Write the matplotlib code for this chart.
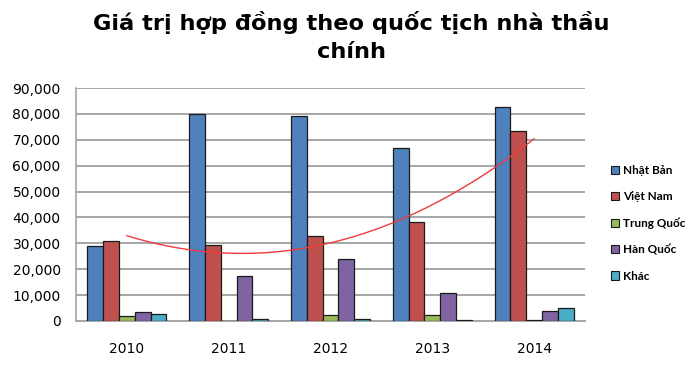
import numpy as np
import matplotlib
matplotlib.use("Agg")
import matplotlib.pyplot as plt
from matplotlib.patches import Patch

years = ["2010", "2011", "2012", "2013", "2014"]
series_names = ["Nhật Bản", "Việt Nam", "Trung Quốc", "Hàn Quốc", "Khác"]
nhat_ban = [29000, 80000, 79000, 66700, 82500]
viet_nam = [31000, 29200, 32800, 38400, 73200]
trung_quoc = [1900, 0, 2200, 2200, 300]
han_quoc = [3600, 17400, 24100, 10800, 4000]
khac = [2600, 600, 900, 500, 4900]
yticks = [0, 10000, 20000, 30000, 40000, 50000, 60000, 70000, 80000, 90000]

colors = ["#4F81BD", "#C0504D", "#9BBB59", "#8064A2", "#4BACC6"]
data = [nhat_ban, viet_nam, trung_quoc, han_quoc, khac]

fig = plt.figure(figsize=(7, 3.73), dpi=100)
ax = fig.add_axes([76/700, 1-321/373, (585-76)/700, (321-88)/373])

x = np.arange(len(years))
bw = 0.155
for i, (vals, c) in enumerate(zip(data, colors)):
    ax.bar(x + (i - 2) * bw, vals, width=bw, color=c, edgecolor="#1a1a1a",
           linewidth=0.9, zorder=3)

# polynomial (order 2) trendline on Việt Nam series
coef = np.polyfit(x, viet_nam, 2)
xt = np.linspace(x[0], x[-1], 200)
ax.plot(xt, np.polyval(coef, xt), color="#ee3b3b", linewidth=1.0, zorder=4)

ax.set_xlim(-0.5, len(years) - 0.5)
ax.set_ylim(0, 90000)
ax.set_yticks(yticks)
ax.set_yticklabels([f"{v:,}" for v in yticks], fontsize=10, family="DejaVu Sans")
ax.set_xticks(x)
ax.set_xticklabels(years, fontsize=10, family="DejaVu Sans")
ax.tick_params(axis="both", length=0)
ax.tick_params(axis="y", pad=11)
ax.tick_params(axis="x", pad=15)
ax.grid(axis="y", color="#a6a6a6", linewidth=1.4, zorder=0)
for s in ["top", "right"]:
    ax.spines[s].set_visible(False)
ax.spines["left"].set_color("#a6a6a6")
ax.spines["bottom"].set_color("#a6a6a6")
ax.spines["left"].set_linewidth(1.2)
ax.spines["bottom"].set_linewidth(1.4)

handles = [Patch(facecolor=c, edgecolor="#1a1a1a", linewidth=0.8) for c in colors]
fig.legend(handles, series_names, loc="center left",
           bbox_to_anchor=(611/700, (1-169.5/373 + 1-277/373)/2),
           frameon=False, handlelength=0.7, handleheight=0.7,
           prop={"family": "Lato", "size": 8.5, "weight": "bold"},
           handletextpad=0.35, labelspacing=1.3, borderpad=0, borderaxespad=0)

fig.text(0.502, 1-22/373, "Giá trị hợp đồng theo quốc tịch nhà thầu",
         ha="center", va="center", fontsize=16.2, fontweight="bold",
         family="DejaVu Sans")
fig.text(0.502, 1-52/373, "chính",
         ha="center", va="center", fontsize=16.2, fontweight="bold",
         family="DejaVu Sans")

fig.savefig("out.png", dpi=100)
